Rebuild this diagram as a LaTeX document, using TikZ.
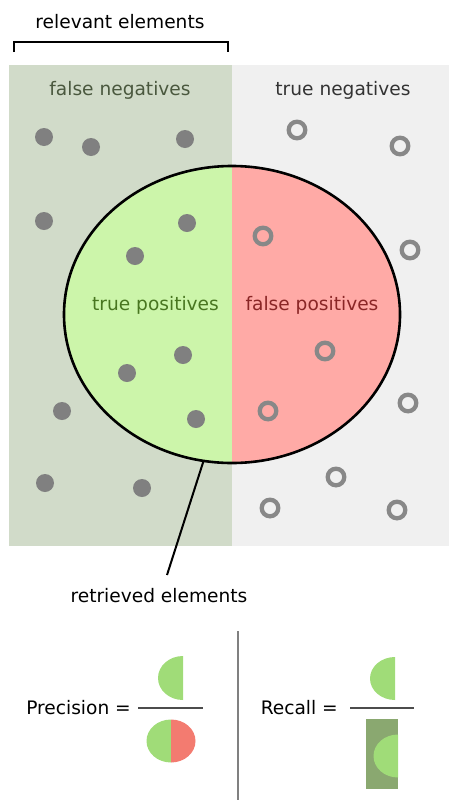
\documentclass[tikz,border=0pt]{standalone}
\usepackage{fontspec}
\setmainfont{DejaVu Sans}
\usetikzlibrary{shapes.geometric}

\definecolor{relbg}{RGB}{209,219,201}
\definecolor{nonbg}{RGB}{240,240,240}
\definecolor{tpfill}{RGB}{204,245,170}
\definecolor{fpfill}{RGB}{255,170,166}
\definecolor{fntext}{RGB}{74,88,62}
\definecolor{tntext}{RGB}{51,51,51}
\definecolor{tptext}{RGB}{72,118,32}
\definecolor{fptext}{RGB}{138,38,38}
\definecolor{itemgray}{RGB}{128,128,128}
\definecolor{ringgray}{RGB}{136,136,136}
\definecolor{smallgreen}{RGB}{160,220,120}
\definecolor{smallred}{RGB}{243,123,112}
\definecolor{relbox}{RGB}{138,168,112}

\tikzset{
  lbl/.style={font=\fontsize{18.6}{22}\selectfont, inner sep=0pt, anchor=center},
  dotitem/.style={fill=itemgray, draw=none},
  ringitem/.style={draw=ringgray, line width=4.3pt, fill=none},
  fracline/.style={draw=black!70, line width=1.4pt},
}

\begin{document}
\begin{tikzpicture}[x=1pt, y=-1pt]
\useasboundingbox (0,0) rectangle (449,801);

% relevant-elements bracket
\node[lbl] (relevant) at (120,22) {relevant elements};
\draw[line width=2pt] (14,52) -- (14,41.5) -- (228,41.5) -- (228,52);

% relevant / non-relevant halves
\fill[relbg] (9,65) rectangle (232,546);
\fill[nonbg] (232,65) rectangle (449,546);
\node[lbl, text=fntext] (fn) at (120,90) {false negatives};
\node[lbl, text=tntext] (tn) at (343,90) {true negatives};

% retrieved set
\node[ellipse, draw=black, line width=2.6pt, fill=tpfill,
      minimum width=336pt, minimum height=297pt, inner sep=0pt, outer sep=0pt,
      path picture={\fill[fpfill] (path picture bounding box.north) rectangle (path picture bounding box.south east);}]
      (retr) at (232,314.5) {};
\node[lbl, text=tptext] (tp) at (155.5,305) {true positives};
\node[lbl, text=fptext] (fp) at (312,305) {false positives};

% relevant items
\foreach \px/\py in {44/137, 91/147, 185/139, 44/221, 187/223, 135/256,
                     183/355, 127/373, 62/411, 196/419, 45/483, 142/488}
  \fill[dotitem] (\px,\py) circle[radius=9];

% non-relevant items
\foreach \px/\py in {297/130, 400/146, 263/236, 410/250, 325/351,
                     408/403, 268/411, 336/477, 270/508, 397/510}
  \draw[ringitem] (\px,\py) circle[radius=8.3];

% retrieved-elements callout
\node[lbl] (retrlbl) at (159,596) {retrieved elements};
\coordinate (calloutend) at (167,575);
\draw[line width=2pt] (retr.-101) -- (calloutend);

% divider between the two formulas
\draw[draw=black!50, line width=1.4pt] (238,631) -- (238,800);

% precision
\node[lbl, anchor=east] (prec) at (131,708) {Precision =};
\coordinate (pl) at (138,708);
\coordinate (pr) at (203,708);
\draw[fracline] (pl) -- (pr);
\begin{scope}
  \clip (150,650) rectangle (183,706);
  \fill[smallgreen] (183,678) ellipse[x radius=25, y radius=22];
\end{scope}
\begin{scope}
  \clip (140,712) rectangle (171,770);
  \fill[smallgreen] (171,741) ellipse[x radius=24.5, y radius=21.5];
\end{scope}
\begin{scope}
  \clip (171,712) rectangle (200,770);
  \fill[smallred] (171,741) ellipse[x radius=24.5, y radius=21.5];
\end{scope}

% recall
\node[lbl, anchor=east] (rec) at (338,708) {Recall =};
\coordinate (rl) at (350,708);
\coordinate (rr) at (414,708);
\draw[fracline] (rl) -- (rr);
\begin{scope}
  \clip (360,650) rectangle (395,706);
  \fill[smallgreen] (395,678.5) ellipse[x radius=25, y radius=21.5];
\end{scope}
\fill[relbox] (366,719) rectangle (398,789);
\begin{scope}
  \clip (366,719) rectangle (398,789);
  \fill[smallgreen] (398,756) ellipse[x radius=24.5, y radius=21.5];
\end{scope}
\end{tikzpicture}
\end{document}
